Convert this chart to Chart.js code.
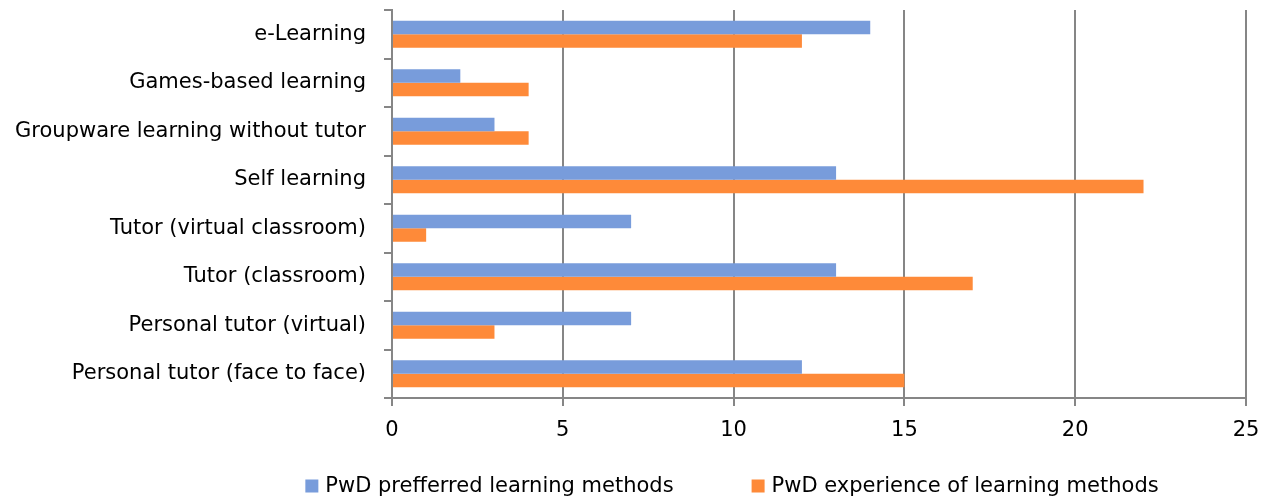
<!DOCTYPE html>
<html>
<head>
<meta charset="utf-8">
<script src="https://cdn.jsdelivr.net/npm/chart.js@4/dist/chart.umd.min.js"></script>
<style>
  html, body { margin: 0; padding: 0; background: #fff; }
  #wrap { width: 1263px; height: 499px; }
</style>
</head>
<body>
<div id="wrap"><canvas id="chart"></canvas></div>
<script>
'use strict';

let categories = [
  'e-Learning',
  'Games-based learning',
  'Groupware learning without tutor',
  'Self learning',
  'Tutor (virtual classroom)',
  'Tutor (classroom)',
  'Personal tutor (virtual)',
  'Personal tutor (face to face)'
];
let preferred = [14, 2, 3, 13, 7, 13, 7, 12];
let experience = [12, 4, 4, 22, 1, 17, 3, 15];
let xTicks = [0, 5, 10, 15, 20, 25];

let axisGray = '#868686';
let font = { family: '"DejaVu Sans", sans-serif', size: 21 };

let canvasElem = document.getElementById('chart');

// Excel style legend: sits off-centre under the plot with a wide gap between items
let bottomLegend = {
  id: 'bottomLegend',
  afterDraw: function(chart) {
    let ctx = chart.ctx;
    let box = 13;
    let gap = 7;
    let spacing = 78;
    let centerX = 732;
    let centerY = 486;
    ctx.save();
    ctx.font = '21px "DejaVu Sans", sans-serif';
    ctx.textBaseline = 'middle';
    ctx.textAlign = 'left';
    let items = chart.data.datasets.map(function(ds) {
      return { text: ds.label, color: ds.backgroundColor, w: ctx.measureText(ds.label).width };
    });
    let total = 0;
    items.forEach(function(it, i) {
      total += box + gap + it.w + (i > 0 ? spacing : 0);
    });
    let x = centerX - total / 2;
    items.forEach(function(it) {
      ctx.fillStyle = it.color;
      ctx.fillRect(x, centerY - box / 2, box, box);
      ctx.fillStyle = '#000';
      ctx.fillText(it.text, x + box + gap, centerY + 1);
      x += box + gap + it.w + spacing;
    });
    ctx.restore();
  }
};

new Chart(canvasElem, {
  type: 'bar',
  data: {
    labels: categories,
    datasets: [{
      label: 'PwD prefferred learning methods',
      data: preferred,
      backgroundColor: '#789cdb'
    },
    {
      label: 'PwD experience of learning methods',
      data: experience,
      backgroundColor: '#fe8a39'
    }]
  },
  options: {
    indexAxis: 'y',
    responsive: true,
    maintainAspectRatio: false,
    animation: false,
    categoryPercentage: 0.56,
    barPercentage: 1.0,
    layout: { padding: { top: 10, right: 17, left: 0, bottom: 0 } },
    plugins: {
      tooltip: { enabled: false },
      legend: { display: false }
    },
    scales: {
      x: {
        min: 0,
        max: 25,
        afterBuildTicks: function(scale) {
          scale.ticks = xTicks.map(function(v) { return { value: v }; });
        },
        // leave room below the axis for the legend
        afterFit: function(scale) {
          scale.height = 101;
          scale.paddingLeft = 0;
          scale.paddingRight = 0;
        },
        grid: {
          color: axisGray,
          lineWidth: 2,
          tickLength: 8
        },
        border: { color: axisGray, width: 2 },
        ticks: { color: '#000', font: font, padding: 12 }
      },
      y: {
        afterFit: function(scale) {
          scale.width = 392;
          scale.paddingTop = 0;
          scale.paddingBottom = 0;
        },
        grid: {
          offset: true,
          drawOnChartArea: false,
          color: axisGray,
          lineWidth: 2,
          tickLength: 8
        },
        border: { color: axisGray, width: 2 },
        ticks: { color: '#000', font: font, padding: 18 }
      }
    }
  },
  plugins: [bottomLegend]
});
</script>
</body>
</html>
